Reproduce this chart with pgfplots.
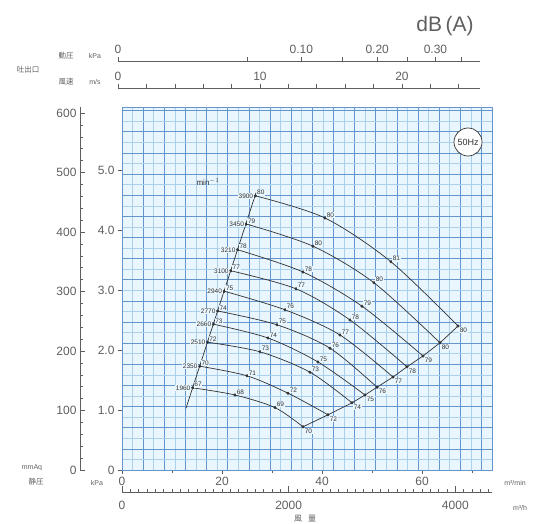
\documentclass[border=0pt]{standalone}
\usepackage{pgfplots}
\pgfplotsset{compat=1.18}
\usepackage{fontspec}
\setmainfont{Liberation Sans}
\newfontfamily\jp{Noto Sans CJK JP}
\definecolor{txt}{RGB}{95,95,95}
\definecolor{gdark}{RGB}{100,150,205}
\definecolor{glight}{RGB}{170,208,238}
\definecolor{bgc}{RGB}{233,246,253}
\definecolor{crv}{RGB}{50,50,50}
\pgfplotsset{
  lbl/.style={only marks, mark=none, nodes near coords, point meta=explicit symbolic,
     every node near coord/.append style={font=\fontsize{6.5}{7}\selectfont, text=crv, inner sep=0.6pt, fill=bgc, #1}},
  crvline/.style={crv, line width=0.7pt, smooth, no marks},
  dots/.style={only marks, mark=*, mark size=1.3pt, crv},
  side/.style={scale only axis, axis line style={txt, line width=0.6pt},
     tick style={txt, line width=0.5pt},
     /pgf/number format/assume math mode=true,
     ticklabel style={font=\fontsize{12}{12}\selectfont, text=txt}},
}
\begin{document}
\begin{tikzpicture}[x=1pt,y=1pt]
\useasboundingbox (0,0) rectangle (538,-524);
% graph paper
\fill[bgc] (122,-470) rectangle (492,-107);
\begin{scope}
\clip (122,-470) rectangle (492,-107);
\foreach \i in {0,...,35} {
  \pgfmathsetmacro\xx{122+10.57*\i}
  \ifodd\i \draw[glight, line width=0.5pt] (\xx,-470) -- (\xx,-107);
  \else \draw[gdark, line width=0.6pt] (\xx,-470) -- (\xx,-107); \fi
}
\foreach \j in {0,...,35} {
  \pgfmathsetmacro\yy{-470+10.57*\j}
  \ifodd\j \draw[glight, line width=0.5pt] (122,\yy) -- (492,\yy);
  \else \draw[gdark, line width=0.6pt] (122,\yy) -- (492,\yy); \fi
}
\end{scope}

% main axis
\begin{axis}[
  side, width=370pt, height=363pt,
  at={(122pt,-470pt)}, anchor=south west,
  xmin=0, xmax=74, ymin=0, ymax=6.05,
  axis line style={draw=gdark, line width=0.7pt},
  xtick={0,20,40,60}, minor xtick={10,30,50,70},
  ytick={0,1,2,3,4,5}, yticklabels={0,1.0,2.0,3.0,4.0,5.0},
  xtick pos=bottom, ytick pos=left, tick align=outside,
  major tick length=4pt, minor tick length=3pt,
  clip=false,
]
% system line
\addplot[crv, line width=0.7pt] coordinates {(12.8,1.03) (26.8,4.62)};
% fan curves
\addplot[crvline] coordinates {(26.68,4.57) (40.6,4.20) (53.8,3.47) (67.2,2.40)};
\addplot[crvline] coordinates {(24.84,4.10) (38.2,3.73) (50.4,3.12) (63.6,2.12)};
\addplot[crvline] coordinates {(23.15,3.67) (36.2,3.30) (48.0,2.73) (60.2,1.90)};
\addplot[crvline] coordinates {(21.78,3.32) (34.8,3.02) (45.6,2.50) (57.0,1.72)};
\addplot[crvline] coordinates {(20.45,2.98) (32.6,2.67) (43.6,2.25) (54.2,1.55)};
\addplot[crvline] coordinates {(19.15,2.65) (31.0,2.42) (41.6,2.03) (51.0,1.38)};
\addplot[crvline] coordinates {(18.29,2.43) (29.2,2.20) (39.2,1.80) (48.6,1.25)};
\addplot[crvline] coordinates {(17.11,2.13) (27.6,1.97) (37.6,1.63) (46.0,1.12)};
\addplot[crvline] coordinates {(15.55,1.73) (25.0,1.57) (33.2,1.28) (41.2,0.92)};
\addplot[crvline] coordinates {(14.13,1.37) (22.6,1.25) (30.6,1.04) (36.2,0.72)};
% boundary
\addplot[crv, line width=0.7pt] coordinates {(36.2,0.72) (41.2,0.92) (46.0,1.12) (48.6,1.25) (51.0,1.38) (54.2,1.55) (57.0,1.72) (60.2,1.90) (63.6,2.12) (67.2,2.40)};
% dots
\addplot[dots] coordinates {
 (26.68,4.57) (40.6,4.20) (53.8,3.47) (67.2,2.40)
 (24.84,4.10) (38.2,3.73) (50.4,3.12) (63.6,2.12)
 (23.15,3.67) (36.2,3.30) (48.0,2.73) (60.2,1.90)
 (21.78,3.32) (34.8,3.02) (45.6,2.50) (57.0,1.72)
 (20.45,2.98) (32.6,2.67) (43.6,2.25) (54.2,1.55)
 (19.15,2.65) (31.0,2.42) (41.6,2.03) (51.0,1.38)
 (18.29,2.43) (29.2,2.20) (39.2,1.80) (48.6,1.25)
 (17.11,2.13) (27.6,1.97) (37.6,1.63) (46.0,1.12)
 (15.55,1.73) (25.0,1.57) (33.2,1.28) (41.2,0.92)
 (14.13,1.37) (22.6,1.25) (30.6,1.04) (36.2,0.72)};
% rpm labels
\addplot[lbl={anchor=east, xshift=-1.5pt}] coordinates {
 (26.68,4.57)[3900] (24.84,4.10)[3450] (23.15,3.67)[3210] (21.78,3.32)[3100]
 (20.45,2.98)[2940] (19.15,2.65)[2770] (18.29,2.43)[2660] (17.11,2.13)[2510]
 (15.55,1.73)[2350] (14.13,1.37)[1960]};
% dB labels at start and mid points
\addplot[lbl={anchor=south west, xshift=1pt, yshift=0pt}] coordinates {
 (26.68,4.57)[80] (40.6,4.20)[80] (53.8,3.47)[81]
 (24.84,4.10)[79] (38.2,3.73)[80] (50.4,3.12)[80]
 (23.15,3.67)[78] (36.2,3.30)[78] (48.0,2.73)[79]
 (21.78,3.32)[77] (34.8,3.02)[77] (45.6,2.50)[78]
 (20.45,2.98)[75] (32.6,2.67)[76] (43.6,2.25)[77]
 (19.15,2.65)[74] (31.0,2.42)[75] (41.6,2.03)[76]
 (18.29,2.43)[73] (29.2,2.20)[74] (39.2,1.80)[75]
 (17.11,2.13)[72] (27.6,1.97)[73] (37.6,1.63)[73]
 (15.55,1.73)[70] (25.0,1.57)[71] (33.2,1.28)[72]
 (14.13,1.37)[67] (22.6,1.25)[68] (30.6,1.04)[69]};
% dB labels at end points
\addplot[lbl={anchor=north west, xshift=1pt, yshift=-1pt}] coordinates {
 (67.2,2.40)[80] (63.6,2.12)[80] (60.2,1.90)[79] (57.0,1.72)[78]
 (54.2,1.55)[77] (51.0,1.38)[76] (48.6,1.25)[75] (46.0,1.12)[74]
 (41.2,0.92)[72] (36.2,0.72)[70]};
\end{axis}

% mmAq axis
\begin{axis}[
  side, width=20pt, height=363pt,
  at={(80pt,-470pt)}, anchor=south west,
  xmin=0, xmax=1, ymin=0, ymax=610,
  axis x line=none, axis y line*=left,
  ytick={0,100,...,600}, minor ytick={20,40,...,580},
  tick align=inside, major tick length=5pt, minor tick length=3pt,
]
\addplot[draw=none] coordinates {(0.5,100)};
\end{axis}

% m3/h axis
\begin{axis}[
  side, width=370pt, height=10pt,
  at={(122pt,-492pt)}, anchor=south west,
  xmin=0, xmax=4440, ymin=0, ymax=1,
  axis y line=none, axis x line*=bottom,
  xtick={0,2000,4000}, xticklabels={0,2000,4000},
  minor xtick={100,200,...,4400},
  tick align=inside, major tick length=6pt, minor tick length=3.5pt,
  xticklabel style={yshift=-6pt},
]
\addplot[draw=none] coordinates {(100,0.5)};
\end{axis}

% velocity axis
\begin{axis}[
  side, width=362pt, height=10pt,
  at={(118pt,-88pt)}, anchor=north west,
  xmin=0, xmax=25.5, ymin=0, ymax=1,
  axis y line=none, axis x line*=top,
  xtick={0,10,20}, minor xtick={2,4,...,24},
  tick align=outside, major tick length=4pt, minor tick length=4pt,
]
\addplot[draw=none] coordinates {(1,0.5)};
\end{axis}

% dynamic pressure axis
\begin{axis}[
  side, width=362pt, height=10pt,
  at={(118pt,-61pt)}, anchor=north west,
  xmin=0, xmax=25.5, ymin=0, ymax=1,
  axis y line=none, axis x line*=top,
  xtick={0,12.91,18.26,22.36}, xticklabels={0,0.10,0.20,0.30},
  minor xtick={9.129,15.81,20.41,24.15},
  tick align=outside, major tick length=4pt, minor tick length=4pt,
]
\addplot[draw=none] coordinates {(1,0.5)};
\end{axis}

% texts
\begin{scope}[every node/.style={text=txt, inner sep=0pt}]
\node[font=\jp\fontsize{7.5}{8}\selectfont] at (28,-70) {吐出口};
\node[font=\jp\fontsize{7.5}{8}\selectfont] at (66,-56) {動圧};
\node[font=\fontsize{7}{8}\selectfont] at (95,-56) {kPa};
\node[font=\jp\fontsize{7.5}{8}\selectfont] at (66,-82) {風速};
\node[font=\fontsize{7}{8}\selectfont] at (95,-82) {m/s};
\node[font=\fontsize{7}{8}\selectfont] at (32,-468) {mmAq};
\node[font=\jp\fontsize{7.5}{8}\selectfont] at (36,-482) {静圧};
\node[font=\fontsize{7}{8}\selectfont] at (97,-483) {kPa};
\node[font=\fontsize{7}{8}\selectfont] at (515,-483) {m³/min};
\node[font=\fontsize{7}{8}\selectfont] at (520,-508) {m³/h};
\node[font=\jp\fontsize{8}{9}\selectfont] at (305,-519) {風\hspace{6pt}量};
\node[font=\fontsize{21}{22}\selectfont] at (445,-26) {dB\,(A)};
\node[font=\fontsize{8}{9}\selectfont, text=crv] at (208,-182) {min$^{-1}$};
\node[circle, draw=crv, line width=0.7pt, fill=white, minimum size=28pt, inner sep=0pt,
      font=\fontsize{9}{10}\selectfont, text=crv] at (468,-142) {50Hz};
\end{scope}
\end{tikzpicture}
\end{document}
